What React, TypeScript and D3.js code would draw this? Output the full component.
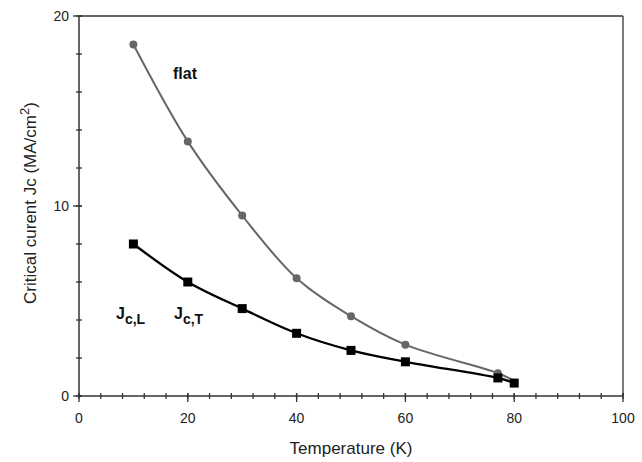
import React from "react";
import * as d3 from "d3";

const temps = [10, 20, 30, 40, 50, 60, 77, 80];
const flatValues = [18.5, 13.4, 9.5, 6.2, 4.2, 2.7, 1.2, 0.8];
const jcValues = [8.0, 6.0, 4.6, 3.3, 2.4, 1.8, 0.95, 0.68];
const xTicks = [0, 20, 40, 60, 80, 100];
const yTicks = [0, 10, 20];

const W = 642, H = 462;
const L = 79, R = 623, T = 16, B = 396;

export default function App() {
  const x = d3.scaleLinear().domain([0, 100]).range([L, R]);
  const y = d3.scaleLinear().domain([0, 20]).range([B, T]);
  const line = d3.line<number>().x((_, i) => x(temps[i])).y((d) => y(d)).curve(d3.curveCatmullRom.alpha(0.5));
  const minorX = d3.range(0, 101, 4);
  const minorY = d3.range(0, 21, 2);
  const font = "'Liberation Sans', Arial, sans-serif";
  const axisCol = "#333";
  const txt = "#222";
  return (
    <svg width={W} height={H} style={{ position: "absolute", left: 0, top: 0, background: "#fff" }}>
      <rect x={0} y={0} width={W} height={H} fill="#fff" />
      {/* frame */}
      <line x1={L} y1={T} x2={R} y2={T} stroke={axisCol} strokeWidth={1.3} />
      <line x1={R} y1={T} x2={R} y2={B} stroke={axisCol} strokeWidth={1.3} />
      <line x1={L} y1={T} x2={L} y2={B} stroke={axisCol} strokeWidth={1.5} />
      <line x1={L} y1={B} x2={R} y2={B} stroke={axisCol} strokeWidth={1.5} />
      {minorY.map((v) => (
        <line key={"yt" + v} x1={L - 3} x2={L + 3} y1={y(v)} y2={y(v)} stroke={axisCol} strokeWidth={1.3} />
      ))}
      {yTicks.map((v) => (
        <line key={"yM" + v} x1={L - 6} x2={L + 3} y1={y(v)} y2={y(v)} stroke={axisCol} strokeWidth={1.3} />
      ))}
      {minorX.map((v) => (
        <line key={"xt" + v} x1={x(v)} x2={x(v)} y1={B - 3} y2={B + 3} stroke={axisCol} strokeWidth={1.3} />
      ))}
      {xTicks.map((v) => (
        <line key={"xM" + v} x1={x(v)} x2={x(v)} y1={B - 3} y2={B + 6} stroke={axisCol} strokeWidth={1.3} />
      ))}
      {yTicks.map((v) => (
        <text key={"yl" + v} x={L - 10} y={y(v)} dy="0.35em" textAnchor="end" fontFamily={font} fontSize={14} fill={txt}>{v}</text>
      ))}
      {xTicks.map((v) => (
        <text key={"xl" + v} x={x(v)} y={B + 27} textAnchor="middle" fontFamily={font} fontSize={14} fill={txt}>{v}</text>
      ))}
      <text x={351} y={454} textAnchor="middle" fontFamily={font} fontSize={17} fill={txt}>Temperature (K)</text>
      <text transform={`translate(36,203) rotate(-90)`} textAnchor="middle" fontFamily={font} fontSize={17} fill={txt}>
        Critical curent Jc (MA/cm<tspan dy={-7} fontSize={13}>2</tspan><tspan dy={7}>)</tspan>
      </text>
      {/* flat series */}
      <path d={line(flatValues) || ""} fill="none" stroke="#666" strokeWidth={2} />
      {flatValues.slice(0, 7).map((v, i) => (
        <circle key={"f" + i} cx={x(temps[i])} cy={y(v)} r={4} fill="#666" />
      ))}
      {/* Jc series */}
      <path d={line(jcValues) || ""} fill="none" stroke="#000" strokeWidth={2.3} />
      {jcValues.map((v, i) => (
        <rect key={"j" + i} x={x(temps[i]) - 4.5} y={y(v) - 4.5} width={9} height={9} fill="#000" />
      ))}
      <text x={173} y={79} fontFamily={font} fontSize={16} fontWeight="bold" fill="#111">flat</text>
      <text x={116} y={319} fontFamily={font} fontSize={16} fontWeight="bold" fill="#111">J<tspan fontSize={14} dy={5}>c,L</tspan></text>
      <text x={174} y={319} fontFamily={font} fontSize={16} fontWeight="bold" fill="#111">J<tspan fontSize={14} dy={5}>c,T</tspan></text>
    </svg>
  );
}
